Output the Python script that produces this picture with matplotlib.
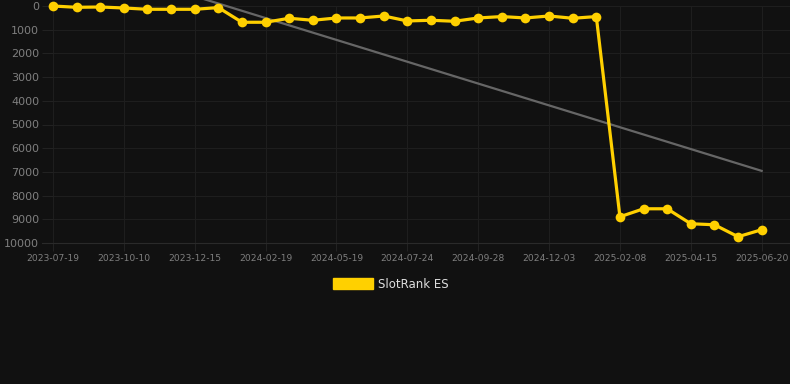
import numpy as np
import matplotlib
matplotlib.use('Agg')
import matplotlib.pyplot as plt
from matplotlib.patches import Patch

# rank values (lower is better, axis inverted)
rank = [0, 55, 42, 84, 139, 139, 139, 67, 686, 686, 518, 602, 505, 505, 421,
        631, 602, 644, 505, 446, 505, 421, 518, 446,
        8893, 8556, 8556, 9188, 9230, 9735, 9440]
tick_labels = ['2023-07-19', '2023-10-10', '2023-12-15', '2024-02-19', '2024-05-19',
               '2024-07-24', '2024-09-28', '2024-12-03', '2025-02-08', '2025-04-15',
               '2025-06-20']
y_ticks = [0, 1000, 2000, 3000, 4000, 5000, 6000, 7000, 8000, 9000, 10000]

bg = '#111111'
gold = '#ffd000'

x = np.arange(len(rank))
slope, intercept = np.polyfit(x, rank, 1)
trend = slope * x + intercept

fig = plt.figure(figsize=(7.9, 3.84), dpi=100, facecolor=bg)
ax = fig.add_axes([53 / 790, 141 / 384, 737 / 790, 237 / 384])
ax.set_facecolor(bg)

ax.plot(x, trend, color='#666666', linewidth=1.6, clip_on=False, zorder=2)
ax.plot(x, rank, color=gold, linewidth=2.3, marker='o', markersize=7,
        markeredgewidth=0, clip_on=False, zorder=3)

ax.set_xlim(0, 31.2)
ax.set_ylim(10000, 0)
ax.set_xticks(x[::3])
ax.set_xticklabels(tick_labels)
ax.set_yticks(y_ticks)

ax.grid(True, color='#1e1e1e', linewidth=0.8)
for s in ax.spines.values():
    s.set_visible(False)
ax.tick_params(axis='x', colors='#222222', labelcolor='#7f7f7f', labelsize=6.6, length=6, pad=2)
ax.tick_params(axis='y', colors='#222222', labelcolor='#7f7f7f', labelsize=8, length=8, pad=2)
ax.axhline(10000, color='#2a2a2a', linewidth=0.8, xmin=-0.015, clip_on=False)

handle = Patch(facecolor=gold, edgecolor=gold)
fig.legend([handle], ['SlotRank ES'], loc='center', bbox_to_anchor=(0.495, 1 - 284 / 384),
           frameon=False, labelcolor='#dddddd', fontsize=8.5,
           handlelength=3.4, handleheight=1.1, handletextpad=0.45)

fig.savefig('out.png', dpi=100, facecolor=bg)
